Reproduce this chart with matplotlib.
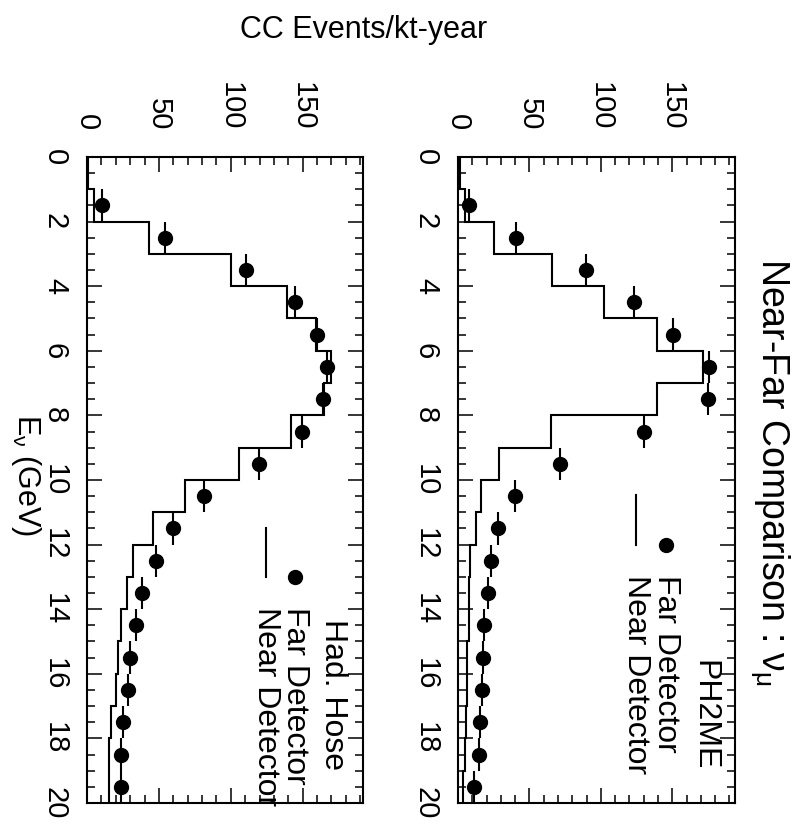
import numpy as np
import matplotlib.pyplot as plt
from matplotlib.ticker import MultipleLocator

plt.rcParams['font.family'] = ['Liberation Sans', 'DejaVu Sans']
plt.rcParams['mathtext.fontset'] = 'custom'
plt.rcParams['mathtext.rm'] = 'Liberation Sans'
plt.rcParams['mathtext.it'] = 'Liberation Sans'

# energy bins, 1 GeV wide
edges = np.arange(0, 21, 1)
centres = edges[:-1] + 0.5

# PH2ME beam
ph2me_near = [1.2, 4.7, 25.2, 65.9, 102.3, 139.5, 171.7, 139.5, 65.0, 28.5,
              15.9, 12.9, 8.5, 8.0, 7.5, 6.0, 6.0, 5.5, 5.0, 3.5]
ph2me_far = [np.nan, 7.7, 40.9, 89.3, 123.4, 150.2, 176.0, 175.2, 130.0, 71.7,
             39.7, 28.0, 23.0, 21.0, 18.0, 17.3, 16.6, 15.2, 14.6, 11.2]

# Had. Hose beam
hose_near = [1.0, 5.0, 43.3, 100.2, 138.9, 159.3, 169.4, 165.0, 141.7, 105.8,
             68.3, 46.0, 31.8, 27.8, 23.3, 21.7, 20.0, 16.4, 15.0, 15.0]
hose_far = [np.nan, 10.4, 54.0, 110.4, 145.0, 160.0, 166.7, 164.4, 149.3, 119.7,
            81.5, 59.7, 47.9, 38.2, 34.3, 30.1, 28.5, 25.0, 23.8, 23.8]

fig = plt.figure(figsize=(7.97, 8.25), dpi=100)
ax_r = fig.add_axes([0.5747, 0.0267, 0.3476, 0.7830])
ax_l = fig.add_axes([0.1092, 0.0267, 0.3463, 0.7830])


def panel(ax, near, far, xmax, name, leg):
    ax.stairs(near, edges, orientation='horizontal', color='black', lw=1.5,
              baseline=None)
    ax.errorbar(far, centres, yerr=0.5, fmt='o', color='black', ms=10,
                elinewidth=1.5, capsize=0)
    ax.set_xlim(0, xmax)
    ax.set_ylim(20, 0)
    ax.xaxis.set_major_locator(MultipleLocator(50))
    ax.xaxis.set_minor_locator(MultipleLocator(10))
    ax.yaxis.set_major_locator(MultipleLocator(2))
    ax.yaxis.set_minor_locator(MultipleLocator(0.5))
    ax.tick_params(which='both', direction='in', top=True, bottom=True,
                   left=True, right=True, labeltop=True, labelbottom=False,
                   width=1.1, labelsize=21)
    ax.tick_params(which='major', length=11)
    ax.tick_params(which='minor', length=6)
    ax.tick_params(axis='x', pad=19, labelrotation=-90)
    ax.tick_params(axis='y', pad=13, labelrotation=-90)
    for lbl in ax.get_yticklabels():
        lbl.set_va('center')
    for s in ax.spines.values():
        s.set_linewidth(1.5)

    # legend, drawn by hand in the rotated layout
    xh, xf, xn, ymark, ytext, yline = leg
    ax.text(xh, 0.051, name, transform=ax.transAxes, rotation=-90,
            ha='center', va='bottom', fontsize=23)
    ax.plot([xf], [ymark], 'o', color='black', ms=10, transform=ax.transAxes,
            clip_on=False)
    ax.text(xf, ytext, 'Far Detector', transform=ax.transAxes, rotation=-90,
            ha='center', va='top', fontsize=23)
    ax.plot([xn, xn], [yline, ymark], color='black', lw=1.5,
            transform=ax.transAxes, clip_on=False)
    ax.text(xn, ytext, 'Near Detector', transform=ax.transAxes, rotation=-90,
            ha='center', va='top', fontsize=23, clip_on=False)


panel(ax_r, ph2me_near, ph2me_far, 194, 'PH2ME',
      (0.888, 0.751, 0.643, 0.399, 0.353, 0.477))
panel(ax_l, hose_near, hose_far, 192, 'Had. Hose',
      (0.891, 0.754, 0.648, 0.350, 0.303, 0.426))

fig.text(770 / 797, 1 - 472 / 825, r'Near-Far Comparison : $\nu_{\mu}$',
         rotation=-90, ha='center', va='center', fontsize=27)
fig.text(364 / 797, 1 - 30 / 825, 'CC Events/kt-year', ha='center',
         va='center', fontsize=22)
fig.text(26 / 797, 1 - 475 / 825, r'E$_{\nu}$ (GeV)', rotation=-90,
         ha='center', va='center', fontsize=22)

fig.savefig('out.png', dpi=100)
